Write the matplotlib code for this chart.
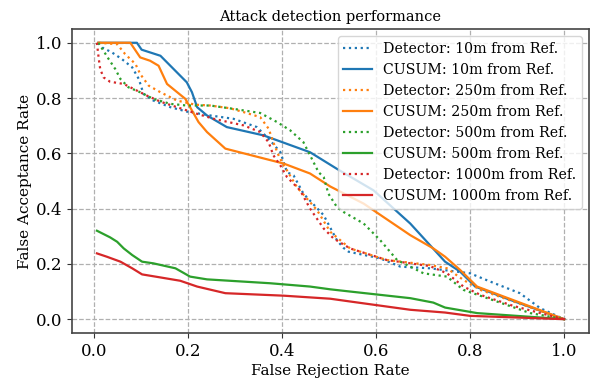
import matplotlib
matplotlib.use('Agg')
import matplotlib.pyplot as plt

plt.rcParams['font.family'] = 'DejaVu Serif'

# detector curves (false rejection rate, false acceptance rate)
det10_x = [0.01, 0.018, 0.039, 0.06, 0.082, 0.096, 0.106, 0.127, 0.163, 0.198, 0.248, 0.297, 0.347,
           0.375, 0.397, 0.411, 0.425, 0.446, 0.489, 0.517, 0.531, 0.542, 0.609, 0.652, 0.715, 0.80,
           0.843, 0.906, 0.949, 1.0]
det10_y = [1.0, 0.983, 0.965, 0.941, 0.911, 0.869, 0.815, 0.791, 0.767, 0.751, 0.737, 0.725, 0.695,
           0.647, 0.604, 0.532, 0.52, 0.454, 0.376, 0.286, 0.258, 0.244, 0.22, 0.19, 0.184, 0.166,
           0.136, 0.094, 0.04, 0.0]

det250_x = [0.01, 0.05, 0.067, 0.089, 0.099, 0.117, 0.142, 0.177, 0.216, 0.248, 0.29, 0.319, 0.354,
            0.372, 0.382, 0.393, 0.404, 0.411, 0.432, 0.475, 0.503, 0.524, 0.545, 0.623, 0.715, 0.751,
            0.786, 0.822, 0.892, 0.963, 1.0]
det250_y = [1.0, 0.995, 0.959, 0.923, 0.887, 0.845, 0.821, 0.791, 0.776, 0.773, 0.763, 0.749, 0.731,
            0.689, 0.64, 0.593, 0.556, 0.538, 0.478, 0.394, 0.316, 0.286, 0.256, 0.214, 0.196, 0.184,
            0.142, 0.106, 0.064, 0.022, 0.0]

det500_x = [0.01, 0.021, 0.032, 0.046, 0.057, 0.074, 0.099, 0.127, 0.163, 0.198, 0.248, 0.297, 0.354,
            0.39, 0.418, 0.446, 0.46, 0.478, 0.489, 0.499, 0.517, 0.531, 0.574, 0.609, 0.645, 0.701,
            0.751, 0.786, 0.857, 0.928, 1.0]
det500_y = [1.0, 0.971, 0.941, 0.905, 0.869, 0.839, 0.821, 0.797, 0.779, 0.773, 0.773, 0.761, 0.746,
            0.713, 0.683, 0.64, 0.593, 0.532, 0.514, 0.454, 0.406, 0.388, 0.346, 0.286, 0.214, 0.166,
            0.154, 0.106, 0.064, 0.022, 0.0]

det1000_x = [0.007, 0.009, 0.011, 0.014, 0.021, 0.035, 0.064, 0.085, 0.113, 0.142, 0.177, 0.22, 0.255,
             0.319, 0.354, 0.372, 0.382, 0.397, 0.411, 0.439, 0.46, 0.489, 0.51, 0.545, 0.623, 0.715,
             0.751, 0.786, 0.822, 0.892, 0.963, 1.0]
det1000_y = [1.0, 0.97, 0.941, 0.905, 0.875, 0.859, 0.851, 0.833, 0.809, 0.787, 0.767, 0.743, 0.725,
             0.701, 0.677, 0.64, 0.593, 0.556, 0.514, 0.466, 0.4, 0.328, 0.292, 0.256, 0.214, 0.192,
             0.166, 0.118, 0.088, 0.048, 0.016, 0.0]

# CUSUM curves
cus10_x = [0.01, 0.092, 0.102, 0.142, 0.198, 0.209, 0.22, 0.241, 0.283, 0.361, 0.46, 0.517, 0.595,
           0.673, 0.747, 0.779, 0.811, 0.885, 1.0]
cus10_y = [1.0, 1.0, 0.975, 0.953, 0.857, 0.821, 0.767, 0.737, 0.695, 0.665, 0.604, 0.544, 0.466,
           0.346, 0.208, 0.172, 0.118, 0.07, 0.0]

cus250_x = [0.01, 0.078, 0.099, 0.12, 0.138, 0.156, 0.195, 0.223, 0.241, 0.28, 0.404, 0.46, 0.503,
            0.574, 0.673, 0.722, 0.747, 0.779, 0.815, 1.0]
cus250_y = [1.0, 1.0, 0.947, 0.935, 0.917, 0.851, 0.797, 0.713, 0.677, 0.617, 0.563, 0.527, 0.48,
            0.418, 0.304, 0.256, 0.226, 0.178, 0.118, 0.0]

cus500_x = [0.007, 0.035, 0.05, 0.064, 0.082, 0.103, 0.127, 0.174, 0.205, 0.241, 0.375, 0.46, 0.503,
            0.545, 0.673, 0.722, 0.747, 0.815, 1.0]
cus500_y = [0.32, 0.296, 0.28, 0.256, 0.232, 0.208, 0.202, 0.184, 0.154, 0.144, 0.13, 0.118, 0.108,
            0.1, 0.076, 0.06, 0.042, 0.022, 0.0]

cus1000_x = [0.007, 0.028, 0.057, 0.082, 0.103, 0.142, 0.184, 0.22, 0.28, 0.404, 0.503, 0.545, 0.673,
             0.747, 0.80, 1.0]
cus1000_y = [0.238, 0.226, 0.208, 0.184, 0.162, 0.151, 0.139, 0.118, 0.094, 0.085, 0.074, 0.064, 0.034,
             0.024, 0.012, 0.0]

blue, orange, green, red = '#1f77b4', '#ff7f0e', '#2ca02c', '#d62728'

fig = plt.figure(figsize=(5.92, 3.81), dpi=100)
ax = fig.add_axes([0.1216, 0.126, 0.8734, 0.798])

ax.plot(det10_x, det10_y, ':', color=blue, lw=1.6, label='Detector: 10m from Ref.')
ax.plot(cus10_x, cus10_y, '-', color=blue, lw=1.6, label='CUSUM: 10m from Ref.')
ax.plot(det250_x, det250_y, ':', color=orange, lw=1.6, label='Detector: 250m from Ref.')
ax.plot(cus250_x, cus250_y, '-', color=orange, lw=1.6, label='CUSUM: 250m from Ref.')
ax.plot(det500_x, det500_y, ':', color=green, lw=1.6, label='Detector: 500m from Ref.')
ax.plot(cus500_x, cus500_y, '-', color=green, lw=1.6, label='CUSUM: 500m from Ref.')
ax.plot(det1000_x, det1000_y, ':', color=red, lw=1.6, label='Detector: 1000m from Ref.')
ax.plot(cus1000_x, cus1000_y, '-', color=red, lw=1.6, label='CUSUM: 1000m from Ref.')

ax.set_xlim(-0.046, 1.053)
ax.set_ylim(-0.05, 1.05)
ax.set_xticks([0.0, 0.2, 0.4, 0.6, 0.8, 1.0])
ax.set_yticks([0.0, 0.2, 0.4, 0.6, 0.8, 1.0])
ax.tick_params(labelsize=12, color='#333333', length=3.5)
ax.grid(True, linestyle='--', color='#b0b0b0', lw=0.9)
for s in ax.spines.values():
    s.set_color('#444444')
    s.set_linewidth(1.2)

ax.set_xlabel('False Rejection Rate', fontsize=11, labelpad=3)
ax.set_ylabel('False Acceptance Rate', fontsize=11, labelpad=3)
ax.set_title('Attack detection performance', fontsize=10.5)
ax.legend(loc='upper right', fontsize=10.2)

fig.savefig('out.png', dpi=100)
